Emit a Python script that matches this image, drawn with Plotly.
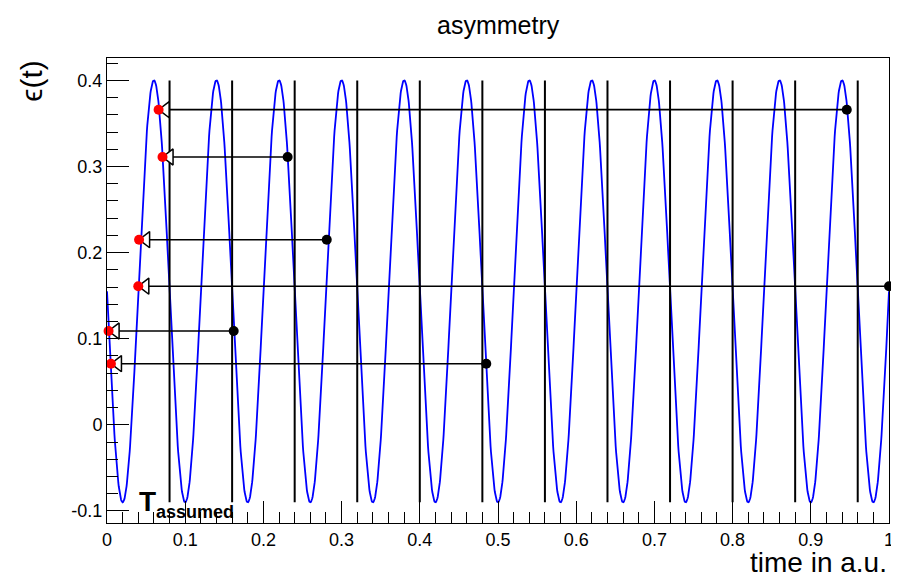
import numpy as np
import plotly.graph_objects as go

# ---- data ----
period = 0.08
offset = 0.155
amplitude = 0.245
t_min_phase = 0.02          # time of first minimum

grid_times = [0.08, 0.16, 0.24, 0.32, 0.40, 0.48, 0.56, 0.64, 0.72, 0.80, 0.88, 0.96]

meas_t = [0.946, 0.231, 0.281, 1.000, 0.162, 0.485]
meas_y = [0.366, 0.311, 0.215, 0.161, 0.109, 0.071]

x_ticks = [0, 0.1, 0.2, 0.3, 0.4, 0.5, 0.6, 0.7, 0.8, 0.9, 1.0]
x_tick_text = ["0", "0.1", "0.2", "0.3", "0.4", "0.5", "0.6", "0.7", "0.8", "0.9", "1"]
y_ticks = [-0.1, 0, 0.1, 0.2, 0.3, 0.4]
y_tick_text = ["-0.1", "0", "0.1", "0.2", "0.3", "0.4"]

# ---- derived ----
t = np.linspace(0, 1, 2001)
curve = offset - amplitude * np.cos(2 * np.pi * (t - t_min_phase) / period)
y_lo, y_hi = offset - amplitude, offset + amplitude
folded_t = [round(v % period, 4) for v in meas_t]

fig = go.Figure()

fig.add_trace(go.Scatter(x=t, y=curve, mode="lines",
                         line=dict(color="#0000ff", width=1.8), hoverinfo="skip"))

vx, vy = [], []
for g in grid_times:
    vx += [g, g, None]
    vy += [y_lo, y_hi, None]
fig.add_trace(go.Scatter(x=vx, y=vy, mode="lines",
                         line=dict(color="black", width=2), hoverinfo="skip"))

ax_, ay_ = [], []
head_off = 0.009
for tb, yb, tr in zip(meas_t, meas_y, folded_t):
    ax_ += [tb, tr + head_off, None]
    ay_ += [yb, yb, None]
fig.add_trace(go.Scatter(x=ax_, y=ay_, mode="lines",
                         line=dict(color="black", width=1.6), hoverinfo="skip"))

fig.add_trace(go.Scatter(x=[tr + head_off for tr in folded_t], y=meas_y, mode="markers",
                         marker=dict(symbol="triangle-left", size=14, color="white",
                                     line=dict(color="black", width=1.5)),
                         hoverinfo="skip"))

fig.add_trace(go.Scatter(x=meas_t, y=meas_y, mode="markers",
                         marker=dict(symbol="circle", size=10, color="black"),
                         cliponaxis=False, hoverinfo="skip"))
fig.add_trace(go.Scatter(x=folded_t, y=meas_y, mode="markers",
                         marker=dict(symbol="circle", size=10, color="#ff0000"),
                         cliponaxis=False, hoverinfo="skip"))

font = "Liberation Sans, Arial, sans-serif"
axis_common = dict(showgrid=False, zeroline=False, showline=True, linecolor="black",
                   linewidth=1, mirror=True, ticks="inside", ticklen=22, tickwidth=1,
                   tickcolor="black", automargin=False,
                   tickfont=dict(family=font, size=18, color="black"))

fig.update_layout(
    width=891, height=572,
    margin=dict(l=99, r=10, t=50, b=57, autoexpand=False),
    paper_bgcolor="white", plot_bgcolor="white",
    showlegend=False,
    font=dict(family=font, color="black"),
    xaxis=dict(range=[0, 1], tickvals=x_ticks, ticktext=x_tick_text,
               minor=dict(dtick=0.02, ticks="inside", ticklen=11, tickcolor="black"),
               **axis_common),
    yaxis=dict(range=[-0.114, 0.426], tickvals=y_ticks, ticktext=y_tick_text,
               minor=dict(dtick=0.02, tick0=0, ticks="inside", ticklen=11, tickcolor="black"),
               **axis_common),
    annotations=[
        dict(text="asymmetry", xref="paper", yref="paper", x=0.5, y=1.0,
             yshift=49, xanchor="center", yanchor="top", showarrow=False,
             font=dict(family=font, size=25, color="black")),
        dict(text="ϵ(t)", xref="paper", yref="paper", x=-0.096, y=0.951,
             textangle=-90, xanchor="center", yanchor="middle", showarrow=False,
             font=dict(family=font, size=30, color="black")),
        dict(text="time in a.u.", xref="paper", yref="paper", x=1.0, y=0,
             yshift=-22, xanchor="right", yanchor="top", showarrow=False,
             font=dict(family=font, size=28, color="black")),
        dict(text="<b>T</b>", xref="x", yref="paper", x=0.038, y=0,
             yshift=22, xanchor="left", yanchor="middle", showarrow=False,
             font=dict(family=font, size=28, color="black")),
        dict(text="<b>assumed</b>", xref="x", yref="paper", x=0.038, y=0,
             xshift=17, yshift=11, xanchor="left", yanchor="middle", showarrow=False,
             font=dict(family=font, size=18, color="black")),
    ],
)

fig.write_html("out.html")
